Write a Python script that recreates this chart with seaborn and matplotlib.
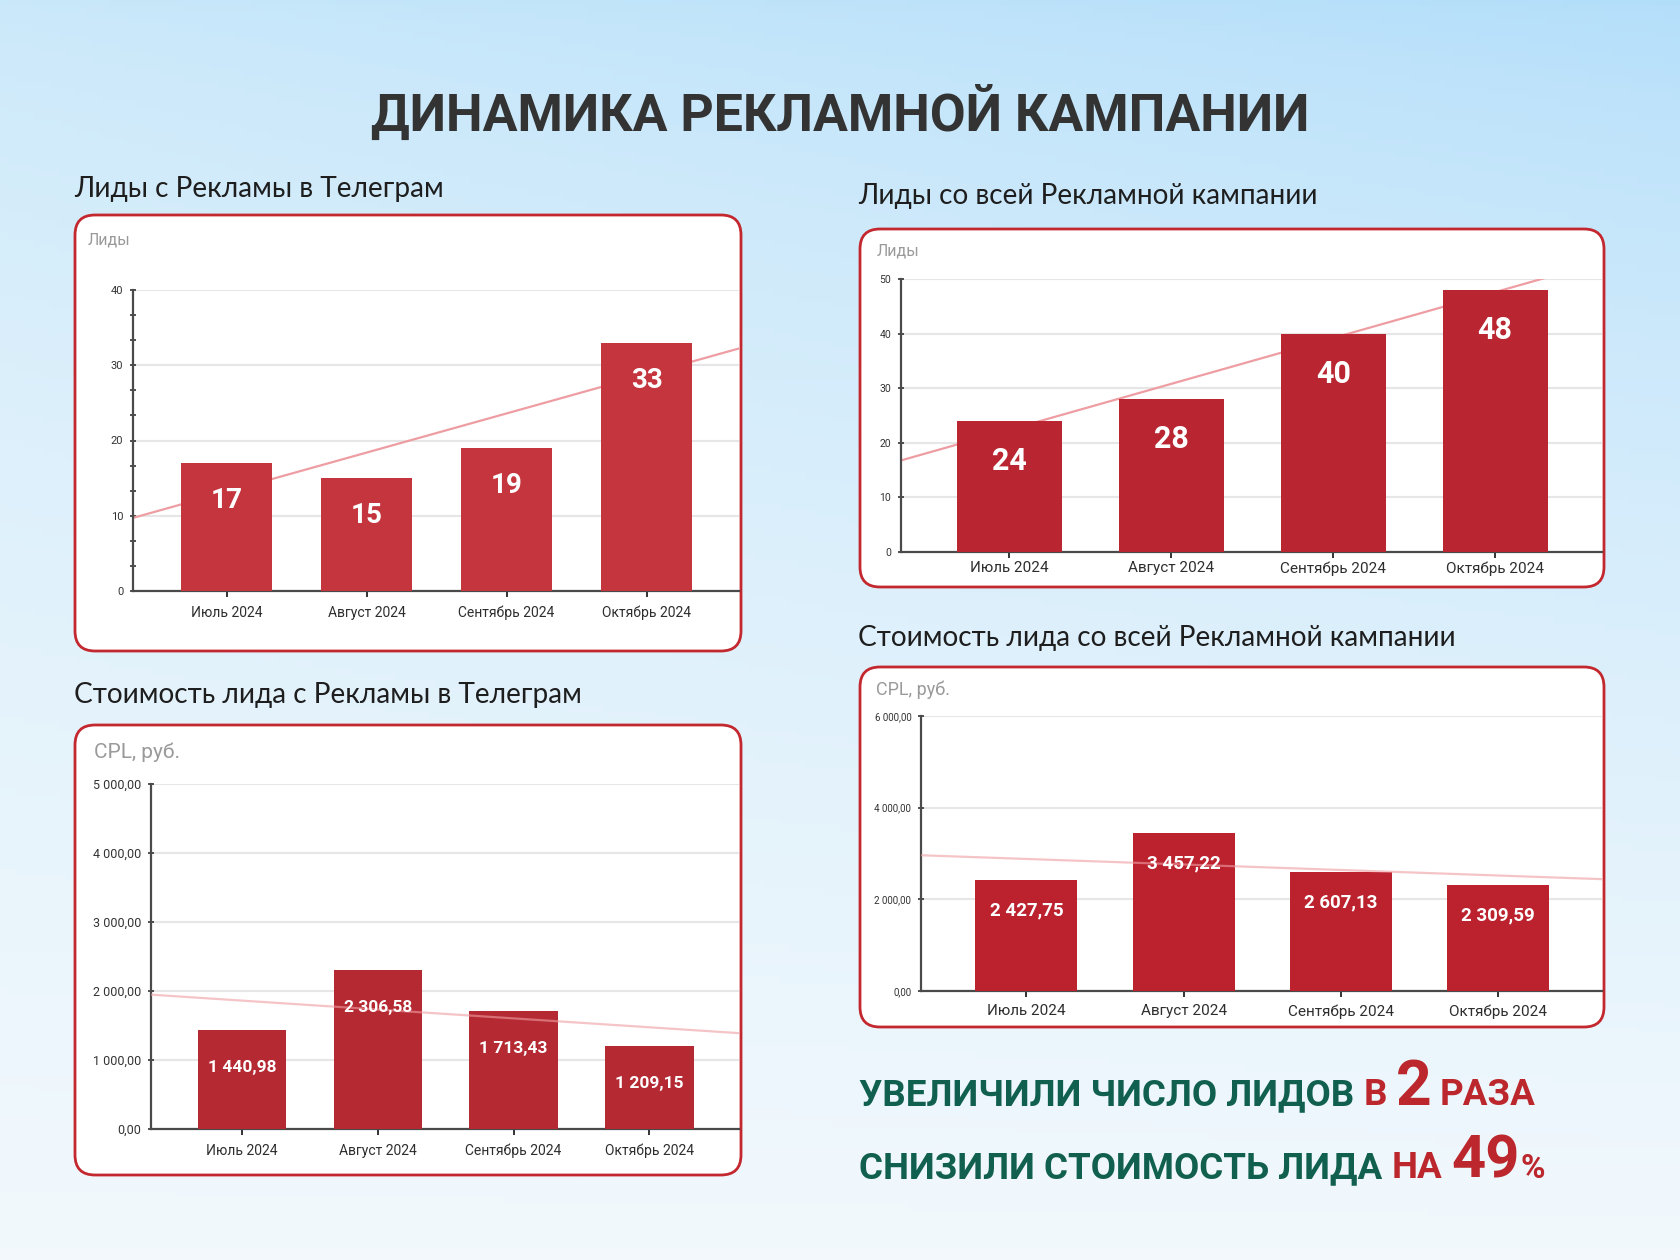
import numpy as np
import matplotlib.pyplot as plt
import seaborn as sns
from matplotlib.patches import FancyBboxPatch
from matplotlib.ticker import MultipleLocator, FuncFormatter

# Data
months = ["Июль 2024", "Август 2024", "Сентябрь 2024", "Октябрь 2024"]
tg_leads = [17, 15, 19, 33]
all_leads = [24, 28, 40, 48]
tg_cpl = [1440.98, 2306.58, 1713.43, 1209.15]
all_cpl = [2427.75, 3457.22, 2607.13, 2309.59]

sns.set_theme(style="white")
plt.rcParams["font.family"] = ["Roboto", "DejaVu Sans"]

W, H = 1680, 1260
fig = plt.figure(figsize=(16.8, 12.6), dpi=100)

# Background: sky gradient, pixel coordinates
bg = fig.add_axes([0, 0, 1, 1])
bg.set_xlim(0, W)
bg.set_ylim(H, 0)
bg.axis("off")
ty = np.linspace(0, 1, 200)[:, None] ** 0.7
tx = np.linspace(0, 1, 200)[None, :]
top = np.array([0.79, 0.91, 0.98])
top_r = np.array([0.70, 0.87, 0.98])
bottom = np.array([0.95, 0.975, 0.99])
top_mix = top[None, None, :] * (1 - tx[..., None]) + top_r[None, None, :] * tx[..., None]
img = top_mix * (1 - ty[..., None]) + bottom[None, None, :] * ty[..., None]
bg.imshow(img, extent=(0, W, H, 0), aspect="auto", zorder=0)

RED_BORDER = "#c3282f"


def rub(v, pos=None):
    return f"{v:,.2f}".replace(",", " ").replace(".", ",")


def panel(box, rect, heading, heading_xy, ylabel, ylabel_xy, ylabel_size,
          values, ymax, ystep, color, fmt, lab_size, lab_off, tick_size,
          ytick_size, line_on_top=False, minor=None, xpad=4):
    bx, by, bw, bh = box
    bg.add_patch(FancyBboxPatch((bx, by), bw, bh,
                                boxstyle="round,pad=0,rounding_size=20",
                                fc="white", ec=RED_BORDER, lw=2, zorder=1))
    bg.text(heading_xy[0], heading_xy[1], heading, fontsize=20.2, color="#1e1e1e",
            family=["Lato", "DejaVu Sans"], va="baseline", ha="left")
    bg.text(ylabel_xy[0], ylabel_xy[1], ylabel, fontsize=ylabel_size, color="#9a9a9a",
            va="center", ha="left")

    x0, y0, x1, y1 = rect
    ax = fig.add_axes([x0 / W, 1 - y1 / H, (x1 - x0) / W, (y1 - y0) / H])
    ax.set_facecolor("none")
    sns.barplot(x=months, y=values, ax=ax, color=color, saturation=1,
                width=0.65, errorbar=None, linewidth=0, zorder=3)
    ax.set_xlim(-0.67, 3.66)
    ax.set_ylim(0, ymax)
    # linear trend line across the whole plot width
    sns.regplot(x=np.arange(len(values)), y=values, ax=ax, scatter=False, ci=None,
                truncate=False,
                line_kws=dict(color="#ee9ea3", lw=1.6,
                              zorder=4 if line_on_top else 2,
                              alpha=0.6 if line_on_top else 1))
    ax.set_xlim(-0.67, 3.66)
    ax.set_ylim(0, ymax)
    ax.set_xlabel("")
    ax.set_ylabel("")

    ax.yaxis.set_major_locator(MultipleLocator(ystep))
    ax.yaxis.set_major_formatter(FuncFormatter(fmt))
    ax.grid(axis="y", color="#e6e6e6", lw=1.5, zorder=0)
    ax.set_axisbelow(True)
    for s in ["top", "right"]:
        ax.spines[s].set_visible(False)
    for s in ["left", "bottom"]:
        ax.spines[s].set_color("#4a4a4a")
        ax.spines[s].set_linewidth(1.6)
    ax.tick_params(axis="x", direction="inout", length=9, width=1.4, color="#333333",
                   labelsize=tick_size, labelcolor="#2e2e2e", pad=xpad, bottom=True)
    ax.tick_params(axis="y", direction="inout", length=4, width=1.2, color="#333333",
                   labelsize=ytick_size, labelcolor="#333333", pad=5, left=True)
    if minor:
        ax.yaxis.set_minor_locator(MultipleLocator(minor))
        ax.tick_params(axis="y", which="minor", direction="inout", length=4,
                       width=1.2, color="#333333", left=True)

    for i, v in enumerate(values):
        txt = str(v) if isinstance(v, int) else rub(v)
        ax.annotate(txt, (i, v), xytext=(0, -lab_off), textcoords="offset points",
                    ha="center", va="center", color="white", fontsize=lab_size,
                    fontweight="bold", zorder=5)
    return ax


def int_fmt(v, pos=None):
    return f"{v:.0f}"


# Top left: leads from Telegram ads
panel((75, 215, 666, 436), (133, 290, 739, 591),
      "Лиды с Рекламы в Телеграм", (74, 197), "Лиды", (88, 240), 11.5,
      tg_leads, 40, 10, "#c4353e", int_fmt, 20, 27, 10, 8, minor=10 / 3, xpad=6)

# Top right: leads from whole campaign
panel((860, 229, 744, 358), (901, 279, 1602, 552),
      "Лиды со всей Рекламной кампании", (858, 204), "Лиды", (877, 251), 11.5,
      all_leads, 50, 10, "#b92530", int_fmt, 22, 29, 11, 7.5, xpad=2)

# Bottom left: CPL Telegram
panel((75, 725, 666, 450), (151, 784, 739, 1129),
      "Стоимость лида с Рекламы в Телеграм", (74, 703), "CPL, руб.", (94, 752), 15,
      tg_cpl, 5000, 1000, "#b52932", rub, 12.5, 27, 10, 9, line_on_top=True, xpad=6)

# Bottom right: CPL whole campaign
panel((860, 667, 744, 360), (921, 716, 1602, 991),
      "Стоимость лида со всей Рекламной кампании", (858, 646), "CPL, руб.", (876, 690), 13,
      all_cpl, 6000, 2000, "#bb222e", rub, 13.5, 22, 11, 7, line_on_top=True, xpad=5)

# Title
bg.text(840, 131, "ДИНАМИКА РЕКЛАМНОЙ КАМПАНИИ", fontsize=37.4, fontweight="bold",
        color="#333333", family=["Roboto", "DejaVu Sans"], ha="center", va="baseline")

# Bottom statements built piece by piece
GREEN = "#11604f"
RED = "#bb272c"
renderer = fig.canvas.get_renderer()


def write_line(pieces, x, y):
    for text, color, size, gap in pieces:
        t = bg.text(x, y, text, color=color, fontsize=size, fontweight="bold",
                    family=["Roboto", "DejaVu Sans"], va="baseline", ha="left")
        x = t.get_window_extent(renderer=renderer).x1 + gap


write_line([("УВЕЛИЧИЛИ ЧИСЛО ЛИДОВ", GREEN, 26.5, 9),
            ("В", RED, 26.5, 9),
            ("2", RED, 45, 8),
            ("РАЗА", RED, 26.5, 0)], 859, 1105)
write_line([("СНИЗИЛИ СТОИМОСТЬ ЛИДА", GREEN, 26.5, 9),
            ("НА", RED, 26.5, 9),
            ("49", RED, 43, 1),
            ("%", RED, 24, 0)], 859, 1178)

fig.savefig("out.png", dpi=100)
